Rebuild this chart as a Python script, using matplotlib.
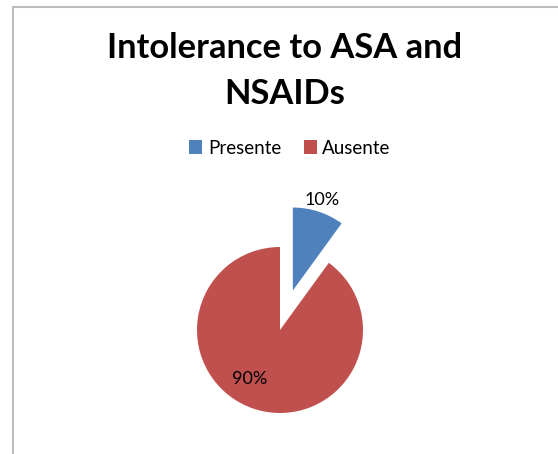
import numpy as np
import matplotlib
matplotlib.use("Agg")
import matplotlib.pyplot as plt
from matplotlib.patches import Rectangle

plt.rcParams['font.family'] = ['Lato', 'DejaVu Sans']

# data
title = "Intolerance to ASA and\nNSAIDs"
categories = ["Presente", "Ausente"]
values = [10, 90]
colors = ["#4F81BD", "#C0504D"]

W, H = 558, 454
fig = plt.figure(figsize=(W / 100, H / 100), dpi=100)

# chart frame (cut off at right and bottom like the screenshot)
fig.add_artist(Rectangle((12.5 / W, -0.1), 2.0, (447 + 0.1 * H) / H,
                         transform=fig.transFigure, fill=False,
                         edgecolor="#BDBDBD", lw=1.5))

fig.text(285 / W, 1 - 71 / H, title, ha="center", va="center",
         fontsize=24.8, fontweight="bold", linespacing=1.5, color="black")

# pie: radius 1 -> ~83 px, centre at (280, 330) image px
R = 83
xl, xr, yb, yt = -1.6, 1.6, -1.3, 1.9
ax = fig.add_axes([(280 + xl * R) / W, (H - 330 + yb * R) / H,
                   (xr - xl) * R / W, (yt - yb) * R / H])
wedges, _ = ax.pie(values, colors=colors, startangle=90, counterclock=False,
                   explode=[0.5, 0], radius=1,
                   wedgeprops=dict(linewidth=0))
ax.set_xlim(xl, xr)
ax.set_ylim(yb, yt)
ax.set_aspect("equal")
ax.axis("off")

# percentage labels, Excel-like placement
label_pos = [(1.15, None), (0.69, 238)]
for w, v, (d, ang) in zip(wedges, values, label_pos):
    a = ang if ang is not None else (w.theta1 + w.theta2) / 2
    cx, cy = w.center
    x = cx + d * np.cos(np.radians(a))
    y = cy + d * np.sin(np.radians(a))
    ax.text(x, y, f"{v}%", ha="center", va="center", fontsize=13, color="black")

leg = fig.legend(wedges, categories, loc="center", bbox_to_anchor=(290 / W, 1 - 148 / H),
                 ncol=2, frameon=False, fontsize=13.5, handlelength=0.7,
                 handleheight=0.7, handletextpad=0.3, columnspacing=1.2)

fig.savefig("out.png", dpi=100)
